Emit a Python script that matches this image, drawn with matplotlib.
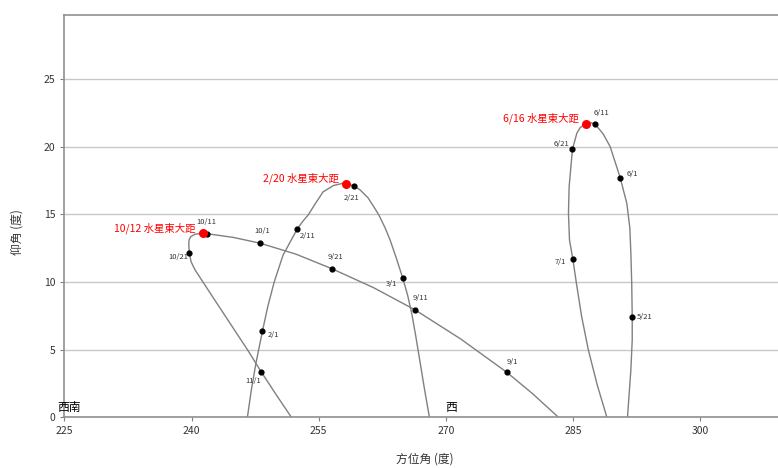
import numpy as np
import matplotlib.pyplot as plt

plt.rcParams['font.family'] = ['Noto Sans CJK TC', 'DejaVu Sans']

# traced paths (azimuth, altitude)
feb_az = [246.59, 247.05, 247.60, 248.36, 249.00, 249.75, 250.80, 252.49, 253.16, 253.75, 254.58,
          255.52, 256.74, 257.88, 258.24, 259.18, 259.89, 260.83, 261.54, 262.13, 262.84, 263.43,
          264.22, 264.92, 265.50, 266.00, 266.45, 266.90, 267.50, 268.06]
feb_alt = [0.0, 2.0, 4.0, 6.36, 8.2, 10.0, 12.0, 13.95, 14.52, 14.95, 15.78,
           16.67, 17.14, 17.31, 17.28, 17.11, 16.81, 16.22, 15.53, 14.92, 14.0, 13.1,
           11.65, 10.28, 9.0, 7.6, 6.0, 4.3, 2.0, 0.0]

jun_az = [291.42, 291.82, 291.98, 291.98, 291.92, 291.82, 291.70, 291.35, 290.56, 289.38, 288.56,
          287.61, 287.02, 286.52, 285.84, 285.45, 284.93, 284.54, 284.46, 284.58, 284.98, 285.40,
          286.00, 286.80, 287.85, 288.99]
jun_alt = [0.0, 3.50, 5.72, 7.44, 9.93, 12.13, 14.0, 15.8, 17.72, 20.01, 20.95,
           21.67, 21.80, 21.72, 21.42, 21.01, 19.82, 17.06, 15.09, 13.11, 11.69, 9.9,
           7.5, 5.0, 2.4, 0.0]

oct_az = [283.28, 280.24, 277.19, 271.78, 266.38, 261.46, 256.55, 252.34, 248.12, 244.96, 241.80,
          241.33, 240.42, 239.91, 239.71, 239.68, 239.75, 239.95, 240.42, 242.50, 244.60, 246.70,
          248.21, 250.00, 251.78]
oct_alt = [0.0, 1.74, 3.33, 5.78, 7.94, 9.59, 10.99, 12.06, 12.87, 13.30, 13.58,
           13.61, 13.54, 13.36, 13.11, 12.74, 12.13, 11.5, 10.9, 8.9, 6.9, 4.9,
           3.37, 1.66, 0.0]

# dated points
dates = ['2/1', '2/11', '2/21', '3/1', '5/21', '6/1', '6/11', '6/21', '7/1',
         '9/1', '9/11', '9/21', '10/1', '10/11', '10/21', '11/1']
date_az = [248.36, 252.49, 259.18, 264.92, 291.98, 290.56, 287.61, 284.93, 284.98,
           277.19, 266.38, 256.55, 248.12, 241.80, 239.75, 248.21]
date_alt = [6.36, 13.95, 17.11, 10.28, 7.44, 17.72, 21.67, 19.82, 11.69,
            3.33, 7.94, 10.99, 12.87, 13.58, 12.13, 3.37]
date_off = [(11, -4), (10, -7), (-3, -12), (-11, -6), (12, 0), (12, 4), (6, 11), (-11, 5), (-12, -3),
            (6, 10), (5, 12), (4, 12), (2, 12), (0, 12), (-11, -4), (-8, -9)]

elong = ['2/20 水星東大距', '6/16 水星東大距', '10/12 水星東大距']
elong_az = [258.24, 286.52, 241.33]
elong_alt = [17.28, 21.72, 13.61]

fig = plt.figure(figsize=(7.78, 4.68), dpi=100)
ax = fig.add_axes([0.0827, 0.1083, 0.9263, 0.8597])

for xs, ys in [(feb_az, feb_alt), (jun_az, jun_alt), (oct_az, oct_alt)]:
    ax.plot(xs, ys, color='#808080', lw=1.0, zorder=2, solid_joinstyle='round')

ax.scatter(date_az, date_alt, s=12, color='black', zorder=3)
for d, x, y, off in zip(dates, date_az, date_alt, date_off):
    ax.annotate(d, (x, y), xytext=off, textcoords='offset pixels',
                ha='center', va='center', fontsize=5.5, color='#333333')

ax.scatter(elong_az, elong_alt, s=30, color='red', zorder=4)
for t, x, y in zip(elong, elong_az, elong_alt):
    ax.annotate(t, (x, y), xytext=(-7, 5), textcoords='offset pixels',
                ha='right', va='center', fontsize=7.5, color='red')

ax.text(225.5, 0.75, '西南', ha='center', va='center', fontsize=8.5)
ax.text(270.6, 0.75, '西', ha='center', va='center', fontsize=8.5)

ax.set_xlim(225, 310)
ax.set_ylim(0, 29.75)
ax.set_xticks([225, 240, 255, 270, 285, 300])
ax.set_yticks([0, 5, 10, 15, 20, 25])
ax.grid(axis='y', color='#c8c8c8', lw=1)
ax.set_axisbelow(True)
ax.tick_params(labelsize=7.5, length=3, color='#808080', colors='#333333')
for s in ax.spines.values():
    s.set_color('#909090')
    s.set_linewidth(1.2)

ax.set_xlabel('方位角 (度)', fontsize=8.5, color='#333333')
ax.set_ylabel('仰角 (度)', fontsize=8.5, color='#333333')
ax.xaxis.set_label_coords(0.5, -0.088)
ax.yaxis.set_label_coords(-0.056, 0.46)

fig.savefig('out.png', dpi=100)
